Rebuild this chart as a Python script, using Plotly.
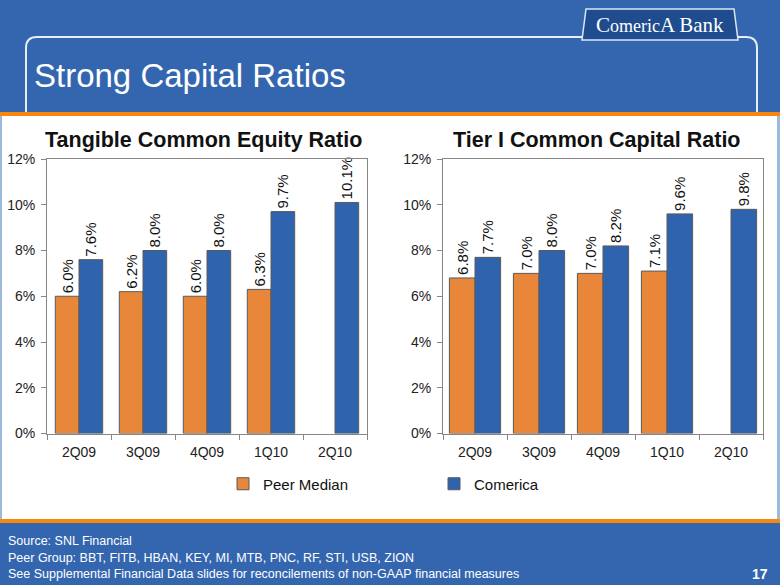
import plotly.graph_objects as go

# ---------------- data ----------------
quarters = ["2Q09", "3Q09", "4Q09", "1Q10", "2Q10"]
tce_peer = [6.0, 6.2, 6.0, 6.3, None]
tce_comerica = [7.6, 8.0, 8.0, 9.7, 10.1]
t1_peer = [6.8, 7.0, 7.0, 7.1, None]
t1_comerica = [7.7, 8.0, 8.2, 9.6, 9.8]
y_ticks = [0, 2, 4, 6, 8, 10, 12]
y_tick_labels = ["0%", "2%", "4%", "6%", "8%", "10%", "12%"]

W, H = 780, 585
ORANGE = "#E8873A"
BLUE = "#2F63AE"
BANNER = "#3466AF"
ACCENT = "#F7870F"
FONT = "Liberation Sans, Arial, sans-serif"


def px(x):
    return x / W


def py(y):
    return 1 - y / H


def lbl(vals):
    return [("" if v is None else f"{v:.1f}%") for v in vals]


fig = go.Figure()

bar_common = dict(
    textposition="outside",
    textangle=-90,
    textfont=dict(family=FONT, size=15, color="#111111"),
    constraintext="none",
    cliponaxis=False,
    marker_line=dict(color="#5A5A5A", width=1),
)

# left chart
fig.add_trace(go.Bar(x=quarters, y=tce_peer, text=lbl(tce_peer), name="Peer Median",
                     marker_color=ORANGE, width=0.37, offset=-0.37,
                     xaxis="x", yaxis="y", legend="legend", showlegend=True, **bar_common))
fig.add_trace(go.Bar(x=quarters, y=tce_comerica, text=lbl(tce_comerica), name="Comerica",
                     marker_color=BLUE, width=0.37, offset=0.0,
                     xaxis="x", yaxis="y", legend="legend2", showlegend=True, **bar_common))
# right chart
fig.add_trace(go.Bar(x=quarters, y=t1_peer, text=lbl(t1_peer), name="Peer Median",
                     marker_color=ORANGE, width=0.40, offset=-0.40,
                     xaxis="x2", yaxis="y2", showlegend=False, **bar_common))
fig.add_trace(go.Bar(x=quarters, y=t1_comerica, text=lbl(t1_comerica), name="Comerica",
                     marker_color=BLUE, width=0.40, offset=0.0,
                     xaxis="x2", yaxis="y2", showlegend=False, **bar_common))

xax = dict(
    showline=True, mirror=True, linecolor="#868686", linewidth=1,
    ticks="outside", ticklen=5, tickcolor="#868686", tickson="boundaries",
    ticklabelstandoff=6,
    tickfont=dict(family=FONT, size=14, color="#222222"),
    showgrid=False, zeroline=False, fixedrange=True, automargin=False,
)
yax = dict(
    range=[0, 12], tickvals=y_ticks, ticktext=y_tick_labels,
    showline=True, mirror=True, linecolor="#868686", linewidth=1,
    ticks="outside", ticklen=5, tickcolor="#868686",
    ticklabelstandoff=3,
    tickfont=dict(family=FONT, size=14, color="#222222"),
    showgrid=False, zeroline=False, fixedrange=True, automargin=False,
)

y_dom = [py(433.5), py(159)]
fig.update_layout(
    width=W, height=H, autosize=False,
    margin=dict(l=0, r=0, t=0, b=0, pad=0, autoexpand=False),
    paper_bgcolor="white", plot_bgcolor="white",
    barmode="overlay",
    font=dict(family=FONT),
    xaxis=dict(domain=[px(47), px(367)], anchor="y", **xax),
    yaxis=dict(domain=y_dom, anchor="x", **yax),
    xaxis2=dict(domain=[px(443), px(763)], anchor="y2", **xax),
    yaxis2=dict(domain=y_dom, anchor="x2", **yax),
    legend=dict(x=px(223), y=py(484), xanchor="left", yanchor="middle",
                orientation="h", bgcolor="rgba(0,0,0,0)",
                font=dict(family=FONT, size=15, color="#111111")),
    legend2=dict(x=px(434), y=py(484), xanchor="left", yanchor="middle",
                 orientation="h", bgcolor="rgba(0,0,0,0)",
                 font=dict(family=FONT, size=15, color="#111111")),
)

shapes = []
# top banner
shapes.append(dict(type="rect", xref="paper", yref="paper", x0=0, x1=1, y0=py(112), y1=1,
                   fillcolor=BANNER, line_width=0, layer="below"))
shapes.append(dict(type="rect", xref="paper", yref="paper", x0=0, x1=1, y0=py(116), y1=py(112),
                   fillcolor=ACCENT, line_width=0, layer="below"))
# footer
shapes.append(dict(type="rect", xref="paper", yref="paper", x0=0, x1=1, y0=0, y1=py(523),
                   fillcolor=BANNER, line_width=0, layer="below"))
shapes.append(dict(type="rect", xref="paper", yref="paper", x0=0, x1=1, y0=py(523), y1=py(519),
                   fillcolor=ACCENT, line_width=0, layer="below"))
# side strips
shapes.append(dict(type="rect", xref="paper", yref="paper", x0=0, x1=px(2), y0=py(519), y1=py(116),
                   fillcolor="#9DB9DD", line_width=0, layer="below"))
shapes.append(dict(type="rect", xref="paper", yref="paper", x0=px(777), x1=1, y0=py(519), y1=py(116),
                   fillcolor="#9DB9DD", line_width=0, layer="below"))


def path(points):
    return "M " + " L ".join(f"{px(x):.5f},{py(y):.5f}" for x, y in points)


# white rounded outline in the banner
left_outline = (f"M {px(26):.5f},{py(112):.5f} L {px(26):.5f},{py(48):.5f} "
                f"Q {px(26):.5f},{py(37):.5f} {px(37):.5f},{py(37):.5f} L {px(584):.5f},{py(37):.5f}")
right_outline = (f"M {px(736):.5f},{py(37):.5f} L {px(746):.5f},{py(37):.5f} "
                 f"Q {px(757):.5f},{py(37):.5f} {px(757):.5f},{py(48):.5f} L {px(757):.5f},{py(112):.5f}")
for p in (left_outline, right_outline):
    shapes.append(dict(type="path", xref="paper", yref="paper", path=p,
                       line=dict(color="#E6EDF6", width=2), layer="below"))
# logo box
logo = path([(586, 9), (734, 9), (738, 40), (582, 40)]) + " Z"
shapes.append(dict(type="path", xref="paper", yref="paper", path=logo,
                   fillcolor="#1E4C8E", line=dict(color="#DCE6F2", width=1.5), layer="below"))
fig.update_layout(shapes=shapes)

annotations = [
    dict(text="Strong Capital Ratios", x=px(32), y=py(75), xanchor="left", yanchor="middle",
         font=dict(family=FONT, size=33, color="white")),
    dict(text="C<span style='font-size:18px'>omeric</span>A Bank", x=px(660), y=py(25),
         xanchor="center", yanchor="middle",
         font=dict(family="Liberation Serif, DejaVu Serif, serif", size=21, color="white")),
    dict(text="<b>Tangible Common Equity Ratio</b>", x=px(203), y=py(140),
         xanchor="center", yanchor="middle", font=dict(family=FONT, size=21.5, color="#111111")),
    dict(text="<b>Tier I Common Capital Ratio</b>", x=px(597), y=py(140),
         xanchor="center", yanchor="middle", font=dict(family=FONT, size=21.5, color="#111111")),
    dict(text="Source: SNL Financial", x=px(6), y=py(541), xanchor="left", yanchor="middle",
         font=dict(family=FONT, size=12.5, color="white")),
    dict(text="Peer Group: BBT, FITB, HBAN, KEY, MI, MTB, PNC, RF, STI, USB, ZION",
         x=px(6), y=py(558), xanchor="left", yanchor="middle",
         font=dict(family=FONT, size=12.5, color="white")),
    dict(text="See Supplemental Financial Data slides for reconcilements of non-GAAP financial measures",
         x=px(6), y=py(574), xanchor="left", yanchor="middle",
         font=dict(family=FONT, size=12.5, color="white")),
    dict(text="<b>17</b>", x=px(770), y=py(574), xanchor="right", yanchor="middle",
         font=dict(family=FONT, size=14, color="white")),
]
for a in annotations:
    a.update(xref="paper", yref="paper", showarrow=False)
fig.update_layout(annotations=annotations)

fig.write_html(
    "out.html",
    config={"displayModeBar": False},
    post_script=(
        "document.body.style.margin='0';document.body.style.padding='0';"
        "document.body.style.overflow='hidden';"
        "var d=document.getElementById('{plot_id}');"
        "d.style.position='fixed';d.style.top='0px';d.style.left='0px';"
    ),
)
